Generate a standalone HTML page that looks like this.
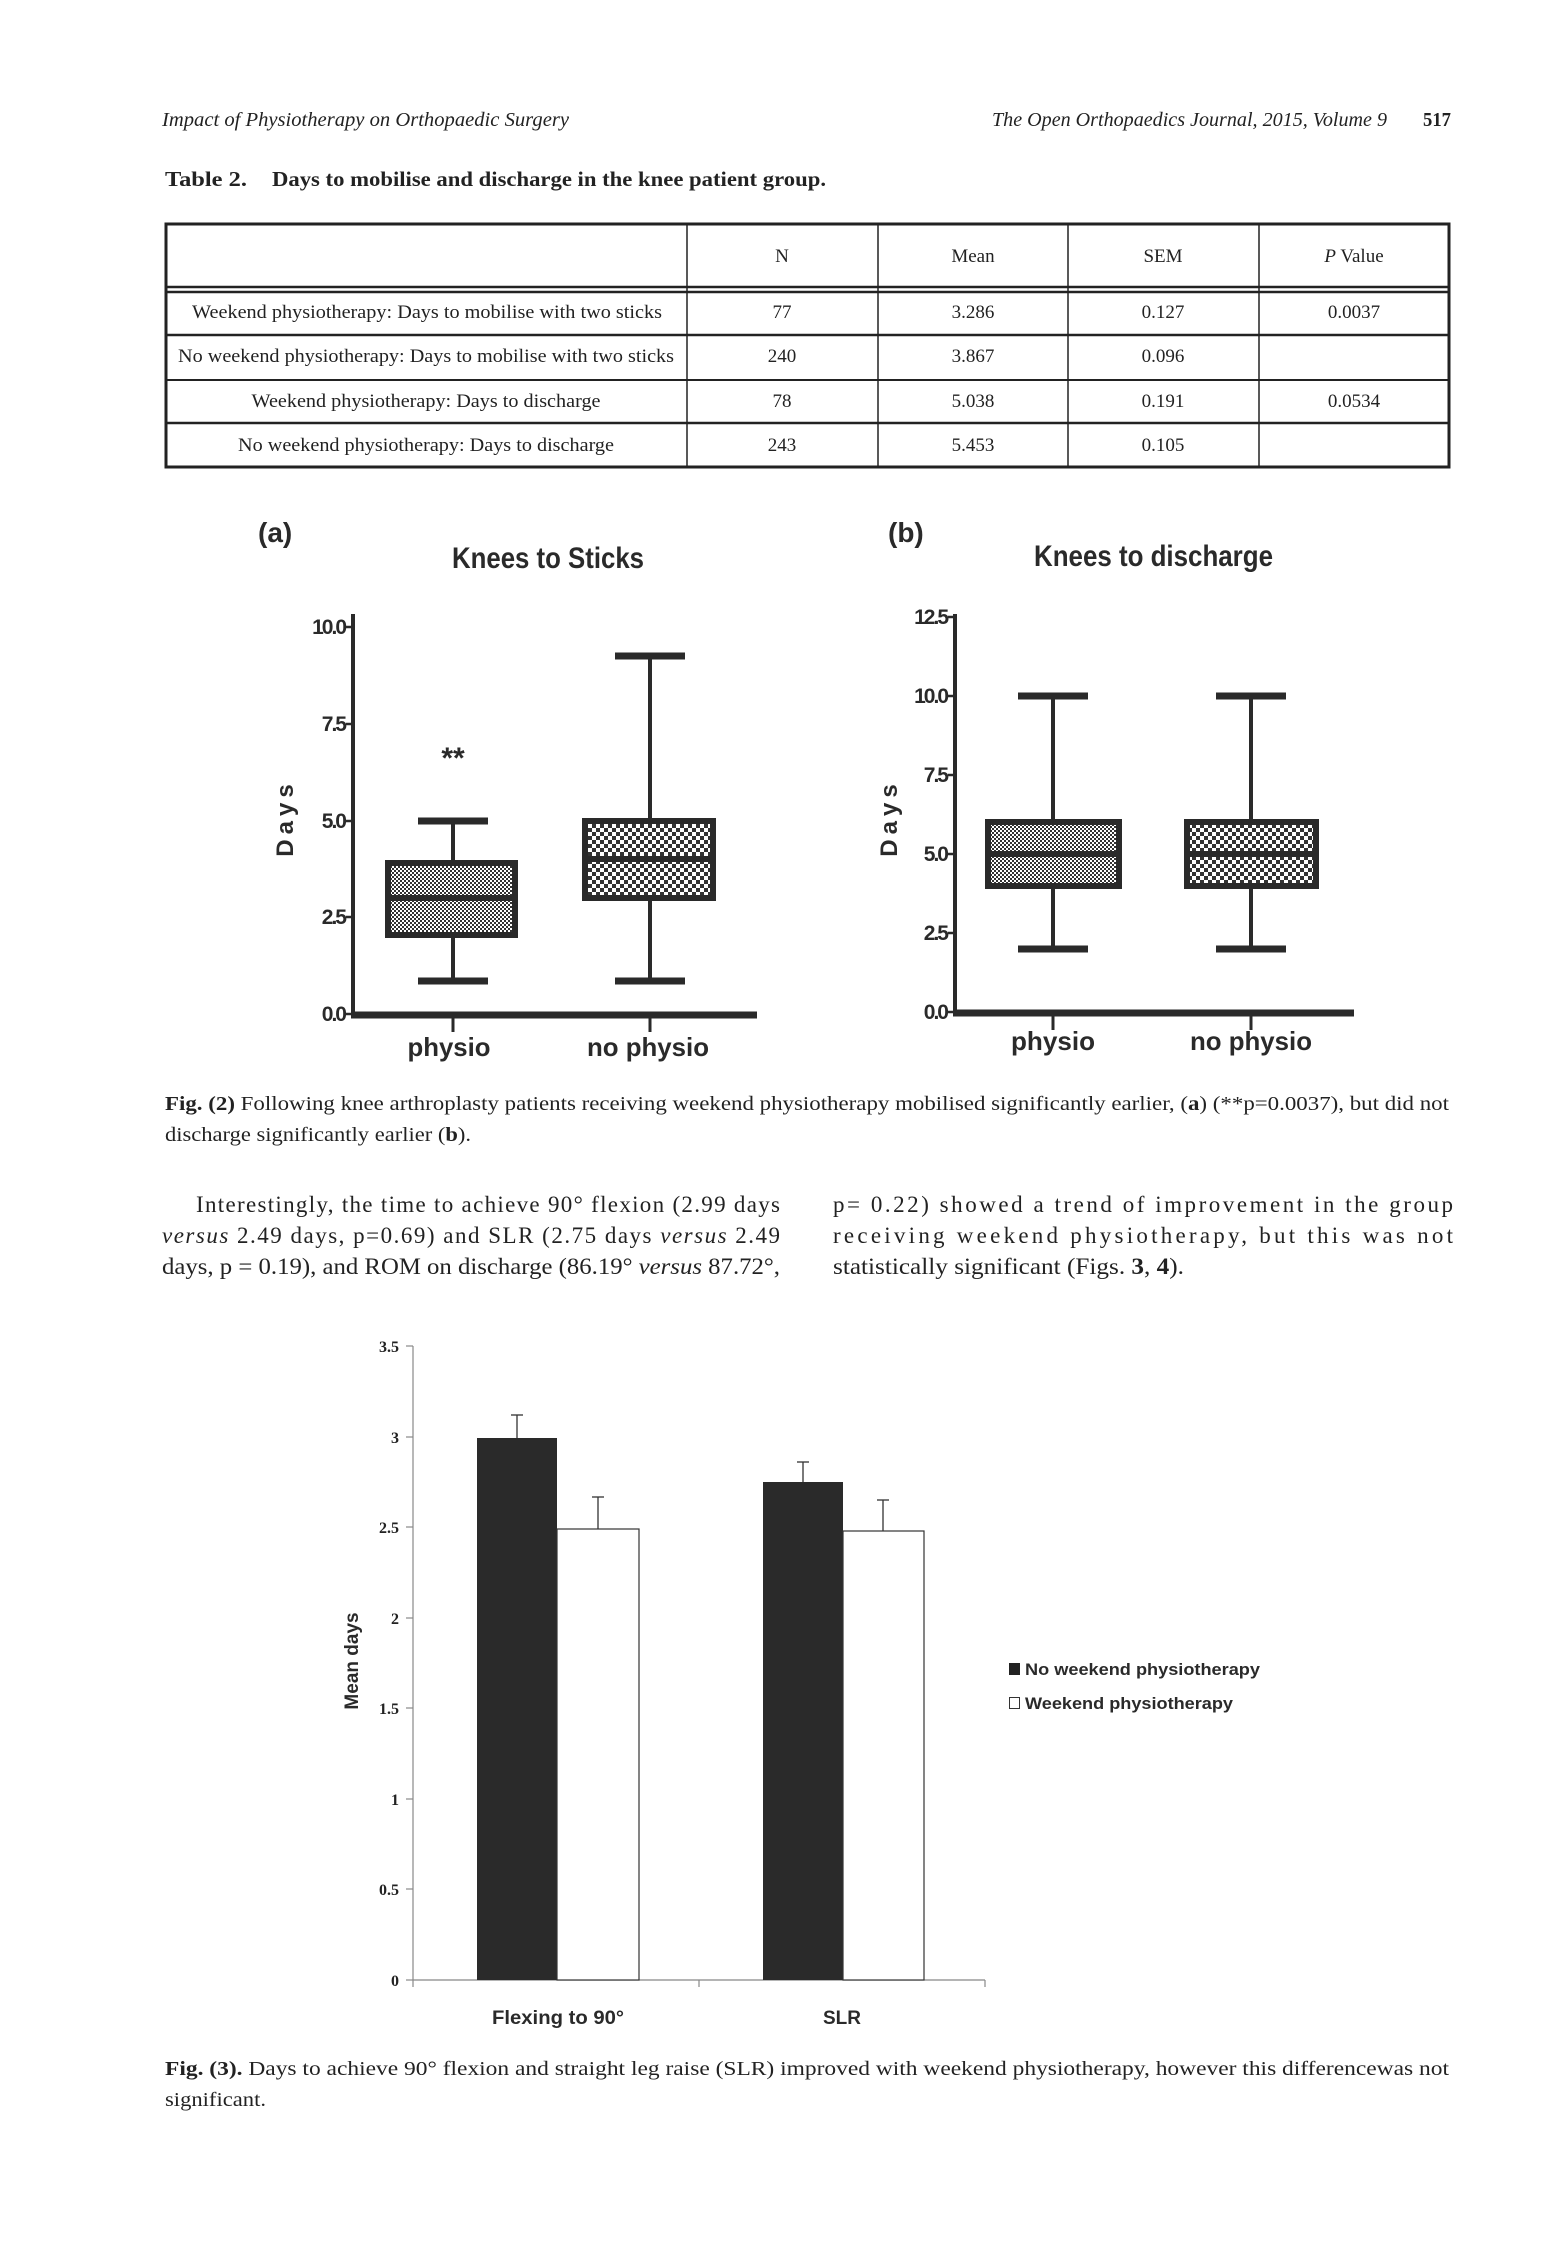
<!DOCTYPE html>
<html><head><meta charset="utf-8"><style>
html,body{margin:0;padding:0;background:#fff}
svg{display:block}
.s{font-family:"Liberation Serif",serif;fill:#222}
.a{font-family:"Liberation Sans",sans-serif;font-weight:bold;fill:#2a2a2a}
</style></head><body>
<svg width="1547" height="2255" viewBox="0 0 1547 2255" xmlns="http://www.w3.org/2000/svg">
<defs>
<pattern id="ck" width="4" height="4" patternUnits="userSpaceOnUse">
<rect width="4" height="4" fill="#fff"/><rect width="2" height="2" fill="#333"/><rect x="2" y="2" width="2" height="2" fill="#333"/>
</pattern>
<pattern id="ck2" width="8" height="8" patternUnits="userSpaceOnUse">
<rect width="8" height="8" fill="#fff"/><rect width="4" height="4" fill="#333"/><rect x="4" y="4" width="4" height="4" fill="#333"/>
</pattern>
</defs>
<!-- header -->
<text class="s" x="162" y="126" font-size="20" font-style="italic" textLength="407" lengthAdjust="spacingAndGlyphs">Impact of Physiotherapy on Orthopaedic Surgery</text>
<text class="s" x="992" y="126" font-size="20" font-style="italic" textLength="395" lengthAdjust="spacingAndGlyphs">The Open Orthopaedics Journal, 2015, Volume 9</text>
<text class="s" x="1423" y="126" font-size="20" font-weight="bold" textLength="28" lengthAdjust="spacingAndGlyphs">517</text>
<text class="s" x="165" y="186" font-size="21" font-weight="bold" textLength="82" lengthAdjust="spacingAndGlyphs">Table 2.</text>
<text class="s" x="272" y="186" font-size="21" font-weight="bold" textLength="554" lengthAdjust="spacingAndGlyphs">Days to mobilise and discharge in the knee patient group.</text>
<!-- table -->
<g stroke="#222" fill="none">
<rect x="166" y="224" width="1283" height="243" stroke-width="3"/>
<line x1="166" y1="287" x2="1449" y2="287" stroke-width="2.5"/>
<line x1="166" y1="292" x2="1449" y2="292" stroke-width="2.5"/>
<line x1="166" y1="335" x2="1449" y2="335" stroke-width="2.5"/>
<line x1="166" y1="380" x2="1449" y2="380" stroke-width="2"/>
<line x1="166" y1="423" x2="1449" y2="423" stroke-width="2.5"/>
<line x1="687" y1="224" x2="687" y2="467" stroke-width="1.5"/>
<line x1="878" y1="224" x2="878" y2="467" stroke-width="1.5"/>
<line x1="1068" y1="224" x2="1068" y2="467" stroke-width="1.5"/>
<line x1="1259" y1="224" x2="1259" y2="467" stroke-width="1.5"/>
</g>
<g class="s" font-size="19" text-anchor="middle">
<text x="782" y="262">N</text><text x="973" y="262">Mean</text><text x="1163" y="262">SEM</text><text x="1354" y="262"><tspan font-style="italic">P</tspan> Value</text>
<text x="427" y="318" textLength="470" lengthAdjust="spacingAndGlyphs">Weekend physiotherapy: Days to mobilise with two sticks</text>
<text x="782" y="318">77</text><text x="973" y="318">3.286</text><text x="1163" y="318">0.127</text><text x="1354" y="318">0.0037</text>
<text x="426" y="362" textLength="496" lengthAdjust="spacingAndGlyphs">No weekend physiotherapy: Days to mobilise with two sticks</text>
<text x="782" y="362">240</text><text x="973" y="362">3.867</text><text x="1163" y="362">0.096</text>
<text x="426" y="407" textLength="349" lengthAdjust="spacingAndGlyphs">Weekend physiotherapy: Days to discharge</text>
<text x="782" y="407">78</text><text x="973" y="407">5.038</text><text x="1163" y="407">0.191</text><text x="1354" y="407">0.0534</text>
<text x="426" y="451" textLength="376" lengthAdjust="spacingAndGlyphs">No weekend physiotherapy: Days to discharge</text>
<text x="782" y="451">243</text><text x="973" y="451">5.453</text><text x="1163" y="451">0.105</text>
</g>
<!-- Fig 2a -->
<text class="a" x="258" y="542" font-size="28" font-weight="normal">(a)</text>
<text class="a" x="452" y="568" font-size="30" textLength="192" lengthAdjust="spacingAndGlyphs">Knees to Sticks</text>
<g stroke="#2a2a2a" fill="none">
<line x1="353" y1="614" x2="353" y2="1017" stroke-width="4"/>
<line x1="351" y1="1015" x2="757" y2="1015" stroke-width="7"/>
<g stroke-width="2.5"><line x1="346" y1="627" x2="353" y2="627"/><line x1="346" y1="724" x2="353" y2="724"/><line x1="346" y1="821" x2="353" y2="821"/><line x1="346" y1="917" x2="353" y2="917"/><line x1="346" y1="1014" x2="353" y2="1014"/></g>
<line x1="453" y1="1018" x2="453" y2="1032" stroke-width="3"/><line x1="650" y1="1018" x2="650" y2="1032" stroke-width="3"/>
<!-- physio -->
<line x1="453" y1="821" x2="453" y2="981" stroke-width="4"/>
<line x1="418" y1="821" x2="488" y2="821" stroke-width="7"/><line x1="418" y1="981" x2="488" y2="981" stroke-width="7"/>
<rect x="388" y="863" width="127" height="72" fill="url(#ck)" stroke-width="6"/>
<line x1="388" y1="898" x2="517" y2="898" stroke-width="6"/>
<!-- no physio -->
<line x1="650" y1="656" x2="650" y2="981" stroke-width="4"/>
<line x1="615" y1="656" x2="685" y2="656" stroke-width="7"/><line x1="615" y1="981" x2="685" y2="981" stroke-width="7"/>
<rect x="585" y="821" width="128" height="77" fill="url(#ck2)" stroke-width="6"/>
<line x1="585" y1="859" x2="715" y2="859" stroke-width="6"/>
</g>
<text class="a" x="453" y="768" font-size="30" text-anchor="middle">**</text>
<g class="a" font-size="21" text-anchor="end" letter-spacing="-2">
<text x="345" y="634">10.0</text><text x="345" y="731">7.5</text><text x="345" y="828">5.0</text><text x="345" y="924">2.5</text><text x="345" y="1021">0.0</text>
</g>
<text class="a" font-size="24" transform="translate(293,818) rotate(-90)" text-anchor="middle" letter-spacing="5">Days</text>
<text class="a" x="449" y="1056" font-size="26" text-anchor="middle" textLength="83" lengthAdjust="spacingAndGlyphs">physio</text>
<text class="a" x="648" y="1056" font-size="26" text-anchor="middle" textLength="122" lengthAdjust="spacingAndGlyphs">no physio</text>
<!-- Fig 2b -->
<text class="a" x="888" y="542" font-size="28" font-weight="normal">(b)</text>
<text class="a" x="1034" y="566" font-size="30" textLength="239" lengthAdjust="spacingAndGlyphs">Knees to discharge</text>
<g stroke="#2a2a2a" fill="none">
<line x1="955" y1="614" x2="955" y2="1015" stroke-width="4"/>
<line x1="953" y1="1013" x2="1354" y2="1013" stroke-width="7"/>
<g stroke-width="2.5"><line x1="948" y1="617" x2="955" y2="617"/><line x1="948" y1="696" x2="955" y2="696"/><line x1="948" y1="775" x2="955" y2="775"/><line x1="948" y1="854" x2="955" y2="854"/><line x1="948" y1="933" x2="955" y2="933"/><line x1="948" y1="1012" x2="955" y2="1012"/></g>
<line x1="1053" y1="1016" x2="1053" y2="1030" stroke-width="3"/><line x1="1251" y1="1016" x2="1251" y2="1030" stroke-width="3"/>
<line x1="1053" y1="696" x2="1053" y2="949" stroke-width="4"/>
<line x1="1018" y1="696" x2="1088" y2="696" stroke-width="7"/><line x1="1018" y1="949" x2="1088" y2="949" stroke-width="7"/>
<rect x="988" y="822" width="131" height="64" fill="url(#ck)" stroke-width="6"/>
<line x1="988" y1="854" x2="1121" y2="854" stroke-width="6"/>
<line x1="1251" y1="696" x2="1251" y2="949" stroke-width="4"/>
<line x1="1216" y1="696" x2="1286" y2="696" stroke-width="7"/><line x1="1216" y1="949" x2="1286" y2="949" stroke-width="7"/>
<rect x="1187" y="822" width="129" height="64" fill="url(#ck2)" stroke-width="6"/>
<line x1="1187" y1="854" x2="1318" y2="854" stroke-width="6"/>
</g>
<g class="a" font-size="21" text-anchor="end" letter-spacing="-2">
<text x="947" y="624">12.5</text><text x="947" y="703">10.0</text><text x="947" y="782">7.5</text><text x="947" y="861">5.0</text><text x="947" y="940">2.5</text><text x="947" y="1019">0.0</text>
</g>
<text class="a" font-size="24" transform="translate(897,818) rotate(-90)" text-anchor="middle" letter-spacing="5">Days</text>
<text class="a" x="1053" y="1050" font-size="26" text-anchor="middle" textLength="84" lengthAdjust="spacingAndGlyphs">physio</text>
<text class="a" x="1251" y="1050" font-size="26" text-anchor="middle" textLength="122" lengthAdjust="spacingAndGlyphs">no physio</text>
<!-- caption 2 -->
<text class="s" x="165" y="1110" font-size="20" textLength="1284" lengthAdjust="spacingAndGlyphs"><tspan font-weight="bold">Fig. (2)</tspan> Following knee arthroplasty patients receiving weekend physiotherapy mobilised significantly earlier, (<tspan font-weight="bold">a</tspan>) (**p=0.0037), but did not</text>
<text class="s" x="165" y="1141" font-size="20" textLength="306" lengthAdjust="spacingAndGlyphs">discharge significantly earlier (<tspan font-weight="bold">b</tspan>).</text>
<!-- paragraph -->
<g class="s" font-size="23">
<text x="196" y="1212" textLength="584" lengthAdjust="spacing">Interestingly, the time to achieve 90° flexion (2.99 days</text>
<text x="162" y="1243" textLength="618" lengthAdjust="spacing"><tspan font-style="italic">versus</tspan> 2.49 days, p=0.69) and SLR (2.75 days <tspan font-style="italic">versus</tspan> 2.49</text>
<text x="162" y="1274" textLength="618" lengthAdjust="spacingAndGlyphs">days, p = 0.19), and ROM on discharge (86.19° <tspan font-style="italic">versus</tspan> 87.72°,</text>
<text x="833" y="1212" textLength="620" lengthAdjust="spacing">p= 0.22) showed a trend of improvement in the group</text>
<text x="833" y="1243" textLength="620" lengthAdjust="spacing">receiving weekend physiotherapy, but this was not</text>
<text x="833" y="1274" textLength="351" lengthAdjust="spacingAndGlyphs">statistically significant (Figs. <tspan font-weight="bold">3</tspan>, <tspan font-weight="bold">4</tspan>).</text>
</g>
<!-- Fig 3 -->
<g stroke="#888" stroke-width="1.2" fill="none">
<line x1="413" y1="1346" x2="413" y2="1980"/>
<line x1="413" y1="1980" x2="985" y2="1980"/>
<line x1="406" y1="1346" x2="413" y2="1346"/><line x1="406" y1="1437" x2="413" y2="1437"/><line x1="406" y1="1527" x2="413" y2="1527"/><line x1="406" y1="1618" x2="413" y2="1618"/><line x1="406" y1="1708" x2="413" y2="1708"/><line x1="406" y1="1799" x2="413" y2="1799"/><line x1="406" y1="1889" x2="413" y2="1889"/><line x1="406" y1="1980" x2="413" y2="1980"/>
<line x1="413" y1="1980" x2="413" y2="1987"/><line x1="699" y1="1980" x2="699" y2="1987"/><line x1="985" y1="1980" x2="985" y2="1987"/>
</g>
<rect x="477" y="1438" width="80" height="542" fill="#2a2a2a"/>
<rect x="557" y="1529" width="82" height="451" fill="#fff" stroke="#333" stroke-width="1.2"/>
<rect x="763" y="1482" width="80" height="498" fill="#2a2a2a"/>
<rect x="843" y="1531" width="81" height="449" fill="#fff" stroke="#333" stroke-width="1.2"/>
<g stroke="#333" stroke-width="1.3">
<line x1="517" y1="1415" x2="517" y2="1438"/><line x1="511" y1="1415" x2="523" y2="1415"/>
<line x1="598" y1="1497" x2="598" y2="1529"/><line x1="592" y1="1497" x2="604" y2="1497"/>
<line x1="803" y1="1462" x2="803" y2="1482"/><line x1="797" y1="1462" x2="809" y2="1462"/>
<line x1="883" y1="1500" x2="883" y2="1531"/><line x1="877" y1="1500" x2="889" y2="1500"/>
</g>
<g class="s" font-size="16" font-weight="bold" text-anchor="end">
<text x="399" y="1352">3.5</text><text x="399" y="1443">3</text><text x="399" y="1533">2.5</text><text x="399" y="1624">2</text><text x="399" y="1714">1.5</text><text x="399" y="1805">1</text><text x="399" y="1895">0.5</text><text x="399" y="1986">0</text>
</g>
<text class="a" font-size="19" transform="translate(358,1661) rotate(-90)" text-anchor="middle">Mean days</text>
<text class="a" x="558" y="2024" font-size="19" text-anchor="middle" textLength="132" lengthAdjust="spacingAndGlyphs">Flexing to 90°</text>
<text class="a" x="842" y="2024" font-size="19" text-anchor="middle">SLR</text>
<rect x="1009" y="1663" width="11" height="12" fill="#222"/>
<rect x="1009.5" y="1697.5" width="10" height="11" fill="#fff" stroke="#333" stroke-width="1"/>
<text class="a" x="1025" y="1675" font-size="17" textLength="235" lengthAdjust="spacingAndGlyphs">No weekend physiotherapy</text>
<text class="a" x="1025" y="1709" font-size="17" textLength="208" lengthAdjust="spacingAndGlyphs">Weekend physiotherapy</text>
<!-- caption 3 -->
<text class="s" x="165" y="2075" font-size="20" textLength="1284" lengthAdjust="spacingAndGlyphs"><tspan font-weight="bold">Fig. (3).</tspan> Days to achieve 90° flexion and straight leg raise (SLR) improved with weekend physiotherapy, however this differencewas not</text>
<text class="s" x="165" y="2106" font-size="20" textLength="101" lengthAdjust="spacingAndGlyphs">significant.</text>
</svg>
</body></html>
